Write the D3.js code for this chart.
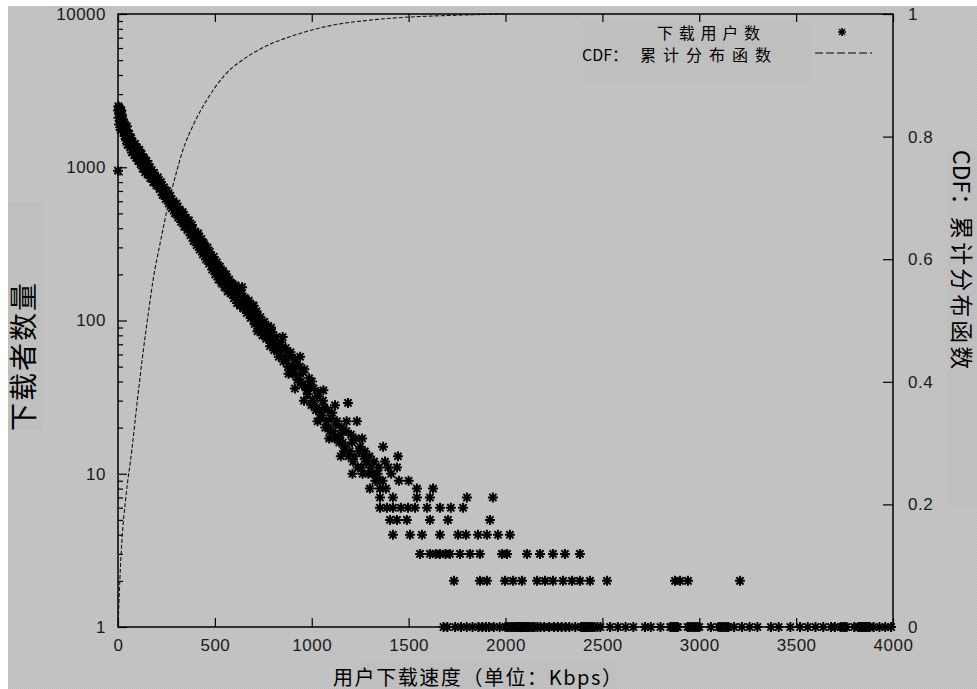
<!DOCTYPE html>
<html>
<head>
<meta charset="utf-8">
<script src="https://cdn.jsdelivr.net/npm/d3@7"></script>
<style>
  body { margin: 0; background: #fff; overflow: hidden; }
  svg { display: block; }
</style>
</head>
<body>
<div id="plot"></div>
<script>
// x ticks (Kbps), left log ticks, right CDF ticks
const xTicks = [0, 500, 1000, 1500, 2000, 2500, 3000, 3500, 4000];
const countTicks = [1, 10, 100, 1000, 10000];
const cdfTicks = [0, 0.2, 0.4, 0.6, 0.8, 1];

// 下载用户数: the dense band (speed, users), upper edge
const bandPoints = [
  [0,2350],[0,950],[3,2100],[5,2450],[8,2250],[10,2000],[12,2300],[15,2150],[18,1950],[20,2200],
  [23,1850],[26,2050],[30,1800],[33,1700],[36,1900],[40,1650],[44,1750],[48,1550],[52,1600],[56,1480],
  [60,1520],[65,1420],[70,1380],[75,1450],[80,1300],[85,1350],[90,1250],[95,1300],[100,1200],[106,1280],
  [112,1150],[118,1180],[124,1100],[130,1050],[136,1120],[142,1000],[148,1030],[155,960],[162,980],[170,900],
  [178,870],[186,920],[194,820],[202,800],[210,780],[218,740],[226,760],[234,700],[242,680],[250,640],
  [258,660],[266,600],[274,620],[282,570],[290,560],[298,530],[306,550],[314,500],[322,480],[330,470],
  [338,490],[346,440],[354,420],[362,430],[370,400],[378,380],[386,390],[394,350],[402,340],[410,360],
  [418,320],[426,310],[434,300],[442,320],[450,280],[458,270],[466,260],[474,280],[482,245],[490,230],
  [498,240],[506,215],[514,225],[522,200],[530,210],[538,190],[546,195],[554,180],[562,185],[570,172],
  [578,165],[586,175],[594,158],[602,150],[610,160],[618,145],[626,138],[634,148],[642,130],[650,135],
  [660,122],[670,128],[680,112],[690,118],[700,105],[710,100],[720,108],[730,95],[740,88],[750,92],
  [760,82],[770,86],[780,78],[790,72],[800,76],[812,68],[824,70],[836,62],[848,66],[860,58],
  [872,55],[884,60],[896,50],[913,36],[908,48],[920,52],[932,44],[944,40],[956,46],[968,37],
  [980,33],[992,38],[1004,30],[1016,28],[1028,32],[1040,26],[1052,24],[1064,27],[1076,22],[1088,20],
  [1100,23],[1112,19],[1124,21],[1136,17],[1148,18],[1160,16],[1172,15],[1187,29],[1196,14],[1208,16],
  [1220,13],[1233,22],[1244,14],[1256,11],[1268,13],[1280,12],[1292,10],[1304,11],[1316,10],[1328,9],
  [1340,10],[1368,15],[1378,12],[1395,11],[1410,10],[1440,11],[1445,13]
];

// second pass over the band, the spread around the first
const bandSpread = [
  [2,2500],[6,1900],[9,2400],[14,1750],[17,2350],[22,2050],[28,1950],[34,1600],[38,1800],[42,1500],
  [46,1850],[50,1400],[58,1650],[62,1350],[68,1550],[72,1250],[78,1400],[84,1200],[88,1420],[94,1150],
  [98,1350],[104,1100],[110,1300],[116,1050],[122,1220],[128,980],[134,1150],[140,930],[146,1100],[152,900],
  [158,1050],[166,850],[174,960],[182,800],[190,880],[198,760],[206,860],[214,720],[222,800],[230,660],
  [238,740],[246,620],[254,700],[262,580],[270,650],[278,540],[286,600],[294,500],[302,580],[310,470],
  [318,530],[326,440],[334,510],[342,410],[350,470],[358,390],[366,450],[374,360],[382,420],[390,330],
  [398,380],[406,310],[414,370],[422,290],[430,340],[438,270],[446,310],[454,250],[462,300],[470,235],
  [478,265],[486,215],[494,260],[502,200],[510,240],[518,185],[526,225],[534,175],[542,210],[550,165],
  [558,200],[566,155],[574,185],[582,150],[590,170],[598,140],[606,170],[614,130],[622,155],[630,125],
  [638,150],[646,120],[655,140],[665,112],[675,135],[685,104],[695,125],[705,95],[715,115],[725,88],
  [735,105],[745,80],[755,98],[765,76],[775,92],[785,68],[795,84],[806,64],[818,78],[830,58],
  [842,72],[854,54],[866,66],[878,50],[890,62],[902,45],[914,56],[926,41],[938,50],[950,38],
  [962,48],[974,35],[986,42],[998,28],[1010,36],[1022,26],[1034,34],[1046,23],[1058,30],[1070,20],
  [1082,26],[1094,19],[1106,25],[1118,17],[1130,22],[1142,16],[1154,20],[1166,14],[1178,19],[1190,13],
  [1202,18],[1214,12],[1226,17],[1238,11],[1250,15],[1262,10],[1274,14],[1286,12],[1298,13],[1322,12],
  [1346,11]
];

// loose points off the band
const bandOutliers = [
  [640,165],[700,125],[720,85],[790,90],[850,78],[880,45],[940,58],[960,30],[1000,40],[1030,22],
  [1060,35],[1090,17],[1120,28],[1150,13],[1180,22],[1210,10],[1260,17],[1300,8]
];

// tail: speeds that fall on each integer count level
const speedsAt9 = [1352, 1365, 1450, 1500];
const speedsAt8 = [1352, 1383, 1543, 1626];
const speedsAt7 = [1352, 1419, 1543, 1610, 1801, 1935];
const speedsAt6 = [1352, 1388, 1419, 1460, 1497, 1533, 1595, 1662, 1718, 1781];
const speedsAt5 = [1404, 1440, 1491, 1610, 1703, 1920];
const speedsAt4 = [1419, 1507, 1569, 1662, 1755, 1796, 1858, 1904, 1961, 2023];
const speedsAt3 = [1559, 1610, 1640, 1662, 1690, 1713, 1765, 1817, 1868, 1982, 2008, 2111, 2178, 2245, 2307, 2384];
const speedsAt2 = [1734, 1868, 1904, 1997, 2039, 2085, 2163, 2204, 2245, 2297, 2343, 2384, 2436, 2524, 2875, 2901, 2942, 3210];
const speedsAt1 = [
  1680,1700,1740,1770,1800,1830,1860,1880,1900,1915,1940,1970,2000,2010,2020,2030,2040,2050,2060,2070,
  2080,2090,2100,2110,2120,2130,2140,2150,2165,2180,2200,2225,2250,2270,2290,2310,2330,2360,2390,2400,
  2410,2420,2430,2440,2450,2460,2475,2490,2540,2580,2620,2660,2720,2750,2800,2850,2860,2870,2880,2890,
  2940,2950,2960,2970,2980,2990,3000,3060,3100,3110,3120,3130,3140,3150,3180,3220,3260,3300,3370,3410,
  3470,3520,3560,3600,3640,3680,3700,3730,3740,3750,3760,3800,3820,3830,3840,3850,3860,3870,3880,3900,
  3930,3960,3990
];

// CDF：累计分布函数
const cdfSpeed = [0, 5, 10, 20, 40, 72, 100, 129, 160, 181, 220, 253, 300, 335, 390, 459, 550, 666, 780, 888, 1079, 1300, 1500, 1750, 2000];
const cdfValue = [0.0, 0.04, 0.08, 0.14, 0.21, 0.29, 0.37, 0.447, 0.52, 0.566, 0.63, 0.68, 0.74, 0.778, 0.82, 0.86, 0.90, 0.93, 0.95, 0.963, 0.98, 0.99, 0.995, 0.998, 1.0];

const w = 977;
const h = 689;
const margin = {top: 14, right: 84, bottom: 62, left: 118};
const innerWidth = w - margin.left - margin.right;
const innerHeight = h - margin.top - margin.bottom;

const tail = [
  [1, speedsAt1], [2, speedsAt2], [3, speedsAt3], [4, speedsAt4], [5, speedsAt5],
  [6, speedsAt6], [7, speedsAt7], [8, speedsAt8], [9, speedsAt9]
];
const points = bandPoints.concat(bandSpread, bandOutliers).map(d => ({speed: d[0], count: d[1]}));
tail.forEach(([c, speeds]) => speeds.forEach(s => points.push({speed: s, count: c})));
const cdf = cdfSpeed.map((s, i) => ({speed: s, value: cdfValue[i]}));

const svg = d3.select("div#plot")
  .append("svg")
    .attr("width", w)
    .attr("height", h);

// dithered grey background like the scanned original
const pat = svg.append("defs").append("pattern")
  .attr("id", "dither")
  .attr("width", 2)
  .attr("height", 2)
  .attr("patternUnits", "userSpaceOnUse");
pat.append("rect").attr("width", 2).attr("height", 2).attr("fill", "#c8c8c8");
pat.append("rect").attr("width", 1).attr("height", 1).attr("fill", "#bcbcbc");
pat.append("rect").attr("x", 1).attr("y", 1).attr("width", 1).attr("height", 1).attr("fill", "#bcbcbc");

svg.append("rect")
  .attr("x", 8)
  .attr("y", 6)
  .attr("width", w - 8)
  .attr("height", h - 6)
  .attr("fill", "url(#dither)");

// flat boxes behind titles and legend
const boxes = [[8, 202, 35, 228], [947, 150, 30, 357], [360, 660, 256, 29], [583, 20, 229, 62]];
svg.selectAll("rect.box")
  .data(boxes)
  .enter()
  .append("rect")
    .attr("class", "box")
    .attr("x", d => d[0])
    .attr("y", d => d[1])
    .attr("width", d => d[2])
    .attr("height", d => d[3])
    .attr("fill", "#bfbfbf");

const g = svg.append("g")
  .attr("transform", `translate(${margin.left}, ${margin.top})`);

const xScale = d3.scaleLinear()
  .domain([0, 4000])
  .range([0, innerWidth]);

const yScale = d3.scaleLog()
  .domain([1, 10000])
  .range([innerHeight, 0]);

const cdfScale = d3.scaleLinear()
  .domain([0, 1])
  .range([innerHeight, 0]);

const tickFont = "'Liberation Sans', Arial, sans-serif";

function styleAxis(sel) {
  sel.select(".domain").remove();
  sel.selectAll(".tick line").attr("stroke", "#000").attr("stroke-width", 1.2);
  sel.selectAll(".tick text")
    .attr("fill", "#1a1a1a")
    .style("font-family", tickFont)
    .style("font-size", "17px")
    .style("letter-spacing", "0.5px");
}

// bottom axis, ticks pointing in
g.append("g")
  .attr("transform", `translate(0, ${innerHeight})`)
  .call(d3.axisBottom(xScale).tickValues(xTicks).tickSizeInner(-9).tickSizeOuter(0)
    .tickPadding(12).tickFormat(d3.format("d")))
  .call(styleAxis);

// top mirror ticks
g.append("g")
  .call(d3.axisTop(xScale).tickValues(xTicks).tickSizeInner(-8).tickSizeOuter(0).tickFormat(""))
  .call(styleAxis);

// left log axis: majors and minors
g.append("g")
  .call(d3.axisLeft(yScale).tickValues(countTicks).tickSizeInner(-9).tickSizeOuter(0)
    .tickPadding(12).tickFormat(d3.format("d")))
  .call(styleAxis);

const minorTicks = [];
[1, 10, 100, 1000].forEach(dec => d3.range(2, 10).forEach(k => minorTicks.push(dec * k)));
g.append("g")
  .call(d3.axisLeft(yScale).tickValues(minorTicks).tickSizeInner(-5).tickSizeOuter(0).tickFormat(""))
  .call(styleAxis);

// right CDF axis
g.append("g")
  .attr("transform", `translate(${innerWidth}, 0)`)
  .call(d3.axisRight(cdfScale).tickValues(cdfTicks).tickSizeInner(-10).tickSizeOuter(0)
    .tickPadding(15).tickFormat(d3.format("~g")))
  .call(styleAxis);

// frame
g.append("rect")
  .attr("width", innerWidth)
  .attr("height", innerHeight)
  .attr("fill", "none")
  .attr("stroke", "#000")
  .attr("stroke-width", 1.5);

// asterisk marker: + and x overlaid
const star = (r, k) => `M${-r},0H${r}M0,${-r}V${r}M${-k},${-k}L${k},${k}M${-k},${k}L${k},${-k}`;

// CDF curve
g.append("path")
  .datum(cdf)
  .attr("fill", "none")
  .attr("stroke", "#111")
  .attr("stroke-width", 1.1)
  .attr("stroke-dasharray", "4,2")
  .attr("d", d3.line()
    .x(d => xScale(d.speed))
    .y(d => cdfScale(d.value))
    .curve(d3.curveMonotoneX));

// scatter of user counts
g.selectAll("path.pt")
  .data(points)
  .enter()
  .append("path")
    .attr("class", "pt")
    .attr("transform", d => `translate(${xScale(d.speed)}, ${yScale(d.count)})`)
    .attr("d", star(5, 3.6))
    .attr("fill", "none")
    .attr("stroke", "#000")
    .attr("stroke-width", 2);

// legend
const cjk = "'Noto Sans CJK SC', sans-serif";
svg.append("text")
  .attr("x", 657)
  .attr("y", 39)
  .attr("textLength", 103)
  .attr("lengthAdjust", "spacing")
  .style("font-family", cjk)
  .style("font-size", "16px")
  .attr("fill", "#000")
  .text("下载用户数");

const cdfLegend = svg.append("text")
  .attr("x", 582)
  .attr("y", 61)
  .style("font-family", cjk)
  .style("font-size", "16px")
  .attr("fill", "#000");
cdfLegend.append("tspan").text("CDF：");
cdfLegend.append("tspan")
  .attr("x", 640)
  .style("letter-spacing", "7px")
  .text("累计分布函数");

svg.append("path")
  .attr("transform", "translate(842, 32)")
  .attr("d", star(4, 3))
  .attr("fill", "none")
  .attr("stroke", "#000")
  .attr("stroke-width", 1.6);

svg.append("line")
  .attr("x1", 815)
  .attr("x2", 872)
  .attr("y1", 53)
  .attr("y2", 53)
  .attr("stroke", "#000")
  .attr("stroke-width", 1.2)
  .attr("stroke-dasharray", "8,3");

// axis titles
svg.append("text")
  .attr("transform", "translate(22, 356) rotate(-90)")
  .attr("text-anchor", "middle")
  .attr("dominant-baseline", "central")
  .style("font-family", cjk)
  .style("font-size", "28px")
  .style("letter-spacing", "2px")
  .attr("fill", "#000")
  .text("下载者数量");

const rightTitle = svg.append("text")
  .attr("transform", "translate(963, 150) rotate(90)")
  .attr("dominant-baseline", "central")
  .style("font-family", cjk)
  .style("font-size", "23px")
  .attr("fill", "#000");
rightTitle.append("tspan").text("CDF：");
rightTitle.append("tspan")
  .style("letter-spacing", "3px")
  .text("累计分布函数");

svg.append("text")
  .attr("x", 333)
  .attr("y", 685)
  .attr("textLength", 289)
  .attr("lengthAdjust", "spacing")
  .style("font-family", cjk)
  .style("font-size", "20px")
  .attr("fill", "#000")
  .text("用户下载速度（单位：Kbps）");
</script>
</body>
</html>
